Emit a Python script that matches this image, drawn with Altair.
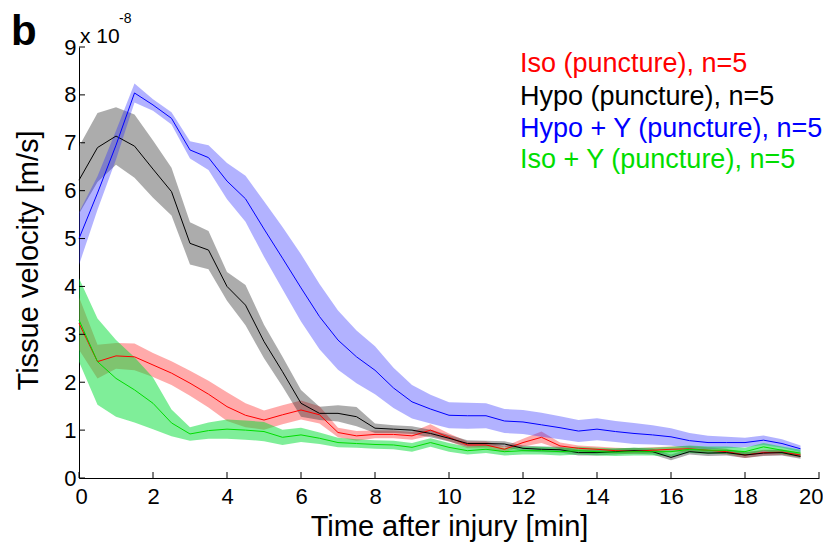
import altair as alt
import pandas as pd

# time axis (min)
T = [0.0, 0.5, 1.0, 1.5, 2.0, 2.5, 3.0, 3.5, 4.0, 4.5, 5.0, 5.5, 6.0, 6.5, 7.0, 7.5,
     8.0, 8.5, 9.0, 9.5, 10.0, 10.5, 11.0, 11.5, 12.0, 12.5, 13.0, 13.5, 14.0, 14.5,
     15.0, 15.5, 16.0, 16.5, 17.0, 17.5, 18.0, 18.5, 19.0, 19.5]

# mean velocity (x 1e-8 m/s) and half-width of shaded band
ISO_MEAN = [3.23, 2.43, 2.55, 2.53, 2.36, 2.19, 1.98, 1.75, 1.49, 1.31, 1.21, 1.32, 1.42, 1.32,
            0.95, 0.88, 0.91, 0.91, 0.88, 1.00, 0.85, 0.69, 0.69, 0.60, 0.74, 0.85, 0.67, 0.62,
            0.60, 0.57, 0.56, 0.58, 0.60, 0.61, 0.58, 0.55, 0.48, 0.53, 0.54, 0.48]
ISO_ERR = [0.55, 0.35, 0.27, 0.28, 0.25, 0.25, 0.26, 0.28, 0.30, 0.25, 0.20, 0.20, 0.20, 0.18,
           0.10, 0.10, 0.08, 0.08, 0.08, 0.12, 0.08, 0.07, 0.07, 0.06, 0.08, 0.12, 0.07, 0.06,
           0.06, 0.06, 0.06, 0.06, 0.06, 0.06, 0.06, 0.06, 0.06, 0.06, 0.06, 0.05]

HYPO_MEAN = [6.22, 6.90, 7.14, 6.93, 6.45, 5.98, 4.90, 4.76, 4.00, 3.61, 2.85, 2.22, 1.56, 1.35,
             1.35, 1.28, 1.04, 1.02, 1.00, 0.93, 0.83, 0.72, 0.72, 0.71, 0.62, 0.60, 0.59, 0.53,
             0.53, 0.55, 0.57, 0.55, 0.43, 0.55, 0.52, 0.53, 0.48, 0.52, 0.53, 0.45]
HYPO_ERR = [0.70, 0.72, 0.60, 0.66, 0.60, 0.50, 0.44, 0.40, 0.30, 0.42, 0.35, 0.31, 0.28, 0.14,
            0.17, 0.20, 0.10, 0.08, 0.08, 0.08, 0.07, 0.07, 0.06, 0.06, 0.06, 0.06, 0.06, 0.06,
            0.06, 0.06, 0.06, 0.06, 0.06, 0.06, 0.06, 0.06, 0.06, 0.06, 0.06, 0.05]

HYPOY_MEAN = [5.00, 5.95, 6.95, 8.04, 7.79, 7.51, 6.85, 6.69, 6.20, 5.83, 5.20, 4.59, 3.97, 3.37,
              2.88, 2.53, 2.25, 1.88, 1.59, 1.44, 1.31, 1.30, 1.30, 1.19, 1.17, 1.11, 1.05, 0.98,
              1.02, 0.97, 0.93, 0.90, 0.86, 0.78, 0.74, 0.74, 0.74, 0.79, 0.72, 0.61]
HYPOY_ERR = [0.55, 0.35, 0.30, 0.20, 0.12, 0.13, 0.18, 0.26, 0.38, 0.48, 0.58, 0.65, 0.70, 0.68,
             0.62, 0.55, 0.50, 0.42, 0.35, 0.30, 0.27, 0.27, 0.26, 0.25, 0.25, 0.25, 0.24, 0.23,
             0.23, 0.22, 0.22, 0.20, 0.18, 0.16, 0.14, 0.12, 0.10, 0.10, 0.09, 0.07]

ISOY_MEAN = [3.30, 2.43, 2.08, 1.84, 1.56, 1.15, 0.92, 0.99, 1.02, 1.00, 0.97, 0.85, 0.90, 0.83,
             0.74, 0.72, 0.70, 0.69, 0.64, 0.74, 0.64, 0.57, 0.60, 0.55, 0.57, 0.57, 0.55, 0.57,
             0.55, 0.54, 0.55, 0.55, 0.55, 0.60, 0.58, 0.58, 0.55, 0.65, 0.58, 0.52]
ISOY_ERR = [0.87, 0.90, 0.80, 0.68, 0.54, 0.28, 0.14, 0.17, 0.20, 0.20, 0.20, 0.16, 0.15, 0.12,
            0.10, 0.09, 0.09, 0.09, 0.09, 0.09, 0.09, 0.08, 0.08, 0.08, 0.08, 0.08, 0.08, 0.08,
            0.08, 0.08, 0.08, 0.08, 0.10, 0.08, 0.08, 0.08, 0.08, 0.08, 0.08, 0.07]

SERIES = ["Iso (puncture), n=5", "Hypo (puncture), n=5",
          "Hypo + Y (puncture), n=5", "Iso + Y (puncture), n=5"]
LINE_COLORS = ["#ff0000", "#000000", "#0000ff", "#00dd00"]
BAND_COLORS = ["#ff2a2a", "#303030", "#2a2aff", "#00dd33"]
BAND_OPACITY = [0.40, 0.40, 0.36, 0.50]

X_TICKS = [0, 2, 4, 6, 8, 10, 12, 14, 16, 18, 20]
Y_TICKS = [0, 1, 2, 3, 4, 5, 6, 7, 8, 9]

FONT = "Liberation Sans"

rows = []
for name, means, errs in zip(SERIES, [ISO_MEAN, HYPO_MEAN, HYPOY_MEAN, ISOY_MEAN],
                             [ISO_ERR, HYPO_ERR, HYPOY_ERR, ISOY_ERR]):
    for t, m, e in zip(T, means, errs):
        rows.append({"t": t, "mean": m, "lo": m - e, "hi": m + e, "series": name})
df = pd.DataFrame(rows)

W, H = 740, 431

xscale = alt.Scale(domain=[0, 20], nice=False, zero=False)
yscale = alt.Scale(domain=[0, 9], nice=False, zero=False)

xaxis = alt.Axis(values=X_TICKS, ticks=False, grid=False, labelFontSize=22,
                 labelFont=FONT, labelColor="black", labelPadding=8,
                 labelFlush=True, labelFlushOffset=4, labelOverlap=False,
                 domainColor="black", domainWidth=1, title="Time after injury [min]",
                 titleFont=FONT, titleFontSize=29, titleFontWeight="normal",
                 titleColor="black", titleX=W / 2, titleY=57,
                 titleBaseline="alphabetic", titleAlign="center")
yaxis = alt.Axis(values=Y_TICKS, ticks=False, grid=False, labelFontSize=22,
                 labelFont=FONT, labelColor="black", labelPadding=3,
                 labelFlush=False, labelOverlap=False, domainColor="black",
                 domainWidth=1, title="Tissue velocity [m/s]",
                 titleFont=FONT, titleFontSize=29, titleFontWeight="normal",
                 titleColor="black", titleX=-42, titleY=213, titleAngle=270,
                 titleBaseline="alphabetic", titleAlign="center")

layers = []
for name, bc, op in zip(SERIES, BAND_COLORS, BAND_OPACITY):
    sub = df[df["series"] == name]
    band = alt.Chart(sub).mark_area(color=bc, opacity=op, line=False).encode(
        x=alt.X("t:Q", scale=xscale, axis=xaxis),
        y=alt.Y("lo:Q", scale=yscale, axis=yaxis),
        y2="hi:Q",
    )
    layers.append(band)
for name, lc in zip(SERIES, LINE_COLORS):
    sub = df[df["series"] == name]
    line = alt.Chart(sub).mark_line(color=lc, strokeWidth=1).encode(
        x=alt.X("t:Q", scale=xscale, axis=xaxis),
        y=alt.Y("mean:Q", scale=yscale, axis=yaxis),
    )
    layers.append(line)

xt = alt.Chart(pd.DataFrame({"t": X_TICKS})).mark_rule(color="black", strokeWidth=1).encode(
    x=alt.X("t:Q", scale=xscale, axis=xaxis), y=alt.value(H), y2=alt.value(H - 6))
yt = alt.Chart(pd.DataFrame({"mean": Y_TICKS})).mark_rule(color="black", strokeWidth=1).encode(
    y=alt.Y("mean:Q", scale=yscale, axis=yaxis), x=alt.value(0), x2=alt.value(6))
layers += [xt, yt]


def label(txt, x, y, size, color="black", weight="normal"):
    return alt.Chart(pd.DataFrame({"txt": [txt]})).mark_text(
        font=FONT, fontSize=size, color=color, fontWeight=weight,
        align="left", baseline="alphabetic").encode(
        text="txt:N", x=alt.value(x), y=alt.value(y))


layers += [label(s, 441, yy, 27, c)
           for s, c, yy in zip(SERIES, LINE_COLORS, [25, 58, 90, 121])]
layers += [label("b", -68, -2, 42, weight="bold"),
           label("x 10", 1, -4, 21),
           label("-8", 40, -24, 14)]

chart = alt.layer(*layers).properties(
    width=W, height=H,
    padding={"left": 71, "top": 39, "right": 4, "bottom": 66},
    autosize=alt.AutoSizeParams(type="none"),
).configure_view(strokeWidth=0)

chart.save("out.html", embed_options={"renderer": "svg", "actions": False})
